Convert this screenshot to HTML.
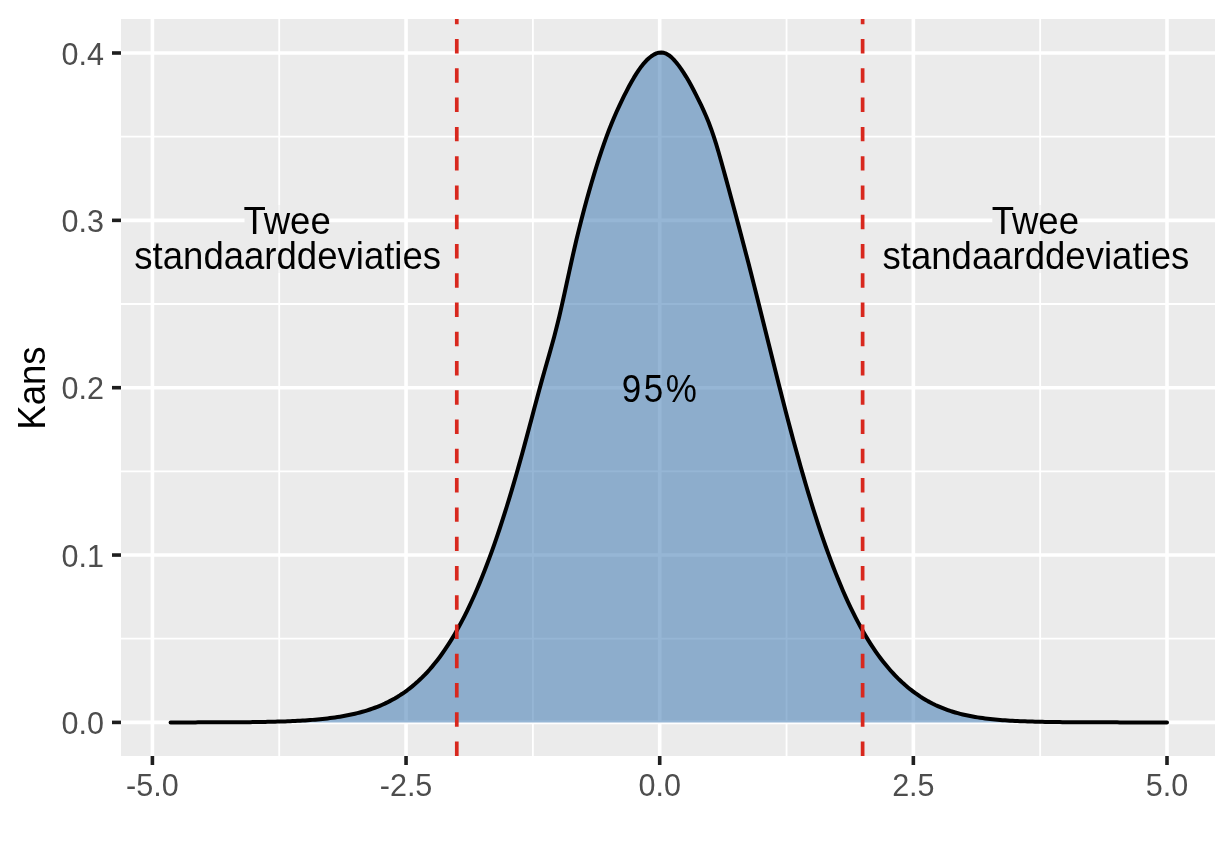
<!DOCTYPE html>
<html><head><meta charset="utf-8"><style>
html,body{margin:0;padding:0;background:#fff;}
body{width:1232px;height:864px;overflow:hidden;}
svg{display:block;will-change:transform;font-family:"Liberation Sans", sans-serif;}
</style></head><body>
<svg width="1232" height="864" viewBox="0 0 1232 864">
<defs><clipPath id="pc"><rect x="121" y="19" width="1094" height="737"/></clipPath></defs>
<rect x="121" y="19" width="1094" height="737" fill="#EBEBEB"/>
<line x1="279.23" y1="19" x2="279.23" y2="756" stroke="#fff" stroke-width="1.8"/>
<line x1="532.88" y1="19" x2="532.88" y2="756" stroke="#fff" stroke-width="1.8"/>
<line x1="786.53" y1="19" x2="786.53" y2="756" stroke="#fff" stroke-width="1.8"/>
<line x1="1040.17" y1="19" x2="1040.17" y2="756" stroke="#fff" stroke-width="1.8"/>
<line x1="121" y1="638.72" x2="1215" y2="638.72" stroke="#fff" stroke-width="1.8"/>
<line x1="121" y1="471.38" x2="1215" y2="471.38" stroke="#fff" stroke-width="1.8"/>
<line x1="121" y1="304.02" x2="1215" y2="304.02" stroke="#fff" stroke-width="1.8"/>
<line x1="121" y1="136.68" x2="1215" y2="136.68" stroke="#fff" stroke-width="1.8"/>
<line x1="152.40" y1="19" x2="152.40" y2="756" stroke="#fff" stroke-width="3.6"/>
<line x1="406.05" y1="19" x2="406.05" y2="756" stroke="#fff" stroke-width="3.6"/>
<line x1="659.70" y1="19" x2="659.70" y2="756" stroke="#fff" stroke-width="3.6"/>
<line x1="913.35" y1="19" x2="913.35" y2="756" stroke="#fff" stroke-width="3.6"/>
<line x1="1167.00" y1="19" x2="1167.00" y2="756" stroke="#fff" stroke-width="3.6"/>
<line x1="121" y1="722.40" x2="1215" y2="722.40" stroke="#fff" stroke-width="3.6"/>
<line x1="121" y1="555.05" x2="1215" y2="555.05" stroke="#fff" stroke-width="3.6"/>
<line x1="121" y1="387.70" x2="1215" y2="387.70" stroke="#fff" stroke-width="3.6"/>
<line x1="121" y1="220.35" x2="1215" y2="220.35" stroke="#fff" stroke-width="3.6"/>
<line x1="121" y1="53.00" x2="1215" y2="53.00" stroke="#fff" stroke-width="3.6"/>
<rect x="244.5" y="216" width="85.3" height="8.5" fill="#EBEBEB"/>
<rect x="277.73" y="205" width="3" height="68" fill="#EBEBEB" fill-opacity="0.45"/>
<rect x="992.3" y="216" width="86.0" height="8.5" fill="#EBEBEB"/>
<rect x="1038.67" y="205" width="3" height="68" fill="#EBEBEB" fill-opacity="0.45"/>
<path d="M170.56,722.39 L173.05,722.39 L175.54,722.39 L178.03,722.39 L180.53,722.39 L183.02,722.39 L185.51,722.38 L188.00,722.38 L190.49,722.38 L192.98,722.38 L195.47,722.38 L197.96,722.37 L200.45,722.37 L202.95,722.36 L205.44,722.36 L207.93,722.36 L210.42,722.35 L212.91,722.34 L215.40,722.34 L217.89,722.33 L220.38,722.32 L222.87,722.31 L225.37,722.30 L227.86,722.29 L230.35,722.28 L232.84,722.27 L235.33,722.25 L237.82,722.24 L240.31,722.22 L242.80,722.20 L245.29,722.18 L247.79,722.15 L250.28,722.13 L252.77,722.10 L255.26,722.07 L257.75,722.03 L260.24,721.99 L262.73,721.95 L265.22,721.91 L267.71,721.86 L270.21,721.81 L272.70,721.75 L275.19,721.69 L277.68,721.62 L280.17,721.55 L282.66,721.47 L285.15,721.38 L287.64,721.29 L290.13,721.19 L292.63,721.09 L295.12,720.97 L297.61,720.85 L300.10,720.71 L302.59,720.57 L305.08,720.41 L307.57,720.25 L310.06,720.07 L312.55,719.88 L315.04,719.67 L317.54,719.45 L320.03,719.22 L322.52,718.96 L325.01,718.70 L327.50,718.41 L329.99,718.10 L332.48,717.78 L334.97,717.43 L337.46,717.06 L339.96,716.67 L342.45,716.25 L344.94,715.80 L347.43,715.33 L349.92,714.82 L352.41,714.29 L354.90,713.72 L357.39,713.11 L359.88,712.47 L362.38,711.80 L364.87,711.08 L367.36,710.32 L369.85,709.51 L372.34,708.65 L374.83,707.75 L377.32,706.80 L379.81,705.79 L382.30,704.72 L384.80,703.60 L387.29,702.41 L389.78,701.15 L392.27,699.83 L394.76,698.44 L397.25,696.97 L399.74,695.42 L402.23,693.79 L404.72,692.08 L407.22,690.28 L409.71,688.38 L412.20,686.40 L414.69,684.31 L417.18,682.12 L419.67,679.82 L422.16,677.42 L424.65,674.90 L427.14,672.26 L429.64,669.50 L432.13,666.62 L434.62,663.60 L437.11,660.45 L439.60,657.17 L442.09,653.75 L444.58,650.18 L447.07,646.47 L449.56,642.60 L452.06,638.58 L454.55,634.40 L457.04,630.06 L459.53,625.56 L462.02,620.89 L464.51,616.06 L467.00,611.05 L469.49,605.87 L471.98,600.51 L474.48,594.97 L476.97,589.25 L479.46,583.35 L481.95,577.27 L484.44,571.00 L486.93,564.55 L489.42,557.91 L491.91,551.08 L494.40,544.07 L496.90,536.87 L499.39,529.49 L501.88,521.92 L504.37,514.17 L506.86,506.23 L509.35,498.11 L511.84,489.82 L514.33,481.35 L516.82,472.71 L519.31,463.91 L521.81,454.95 L524.30,445.85 L526.79,436.62 L529.28,427.29 L531.77,417.89 L534.26,408.49 L536.75,399.14 L539.24,389.91 L541.73,380.85 L544.23,371.98 L546.72,363.26 L549.21,354.58 L551.70,345.77 L554.19,336.66 L556.68,327.06 L559.17,316.90 L561.66,306.16 L564.15,294.98 L566.65,283.54 L569.14,272.05 L571.63,260.73 L574.12,249.71 L576.61,239.08 L579.10,228.85 L581.59,219.01 L584.08,209.51 L586.57,200.32 L589.07,191.41 L591.56,182.75 L594.05,174.36 L596.54,166.23 L599.03,158.38 L601.52,150.82 L604.01,143.57 L606.50,136.65 L608.99,130.04 L611.49,123.76 L613.98,117.77 L616.47,112.05 L618.96,106.57 L621.45,101.30 L623.94,96.22 L626.43,91.30 L628.92,86.55 L631.41,82.00 L633.91,77.66 L636.40,73.59 L638.89,69.82 L641.38,66.38 L643.87,63.29 L646.36,60.57 L648.85,58.21 L651.34,56.22 L653.83,54.61 L656.33,53.41 L658.82,52.67 L661.31,52.44 L663.80,52.77 L666.29,53.68 L668.78,55.16 L671.27,57.16 L673.76,59.61 L676.25,62.45 L678.75,65.62 L681.24,69.08 L683.73,72.82 L686.22,76.82 L688.71,81.06 L691.20,85.53 L693.69,90.20 L696.18,95.04 L698.67,100.03 L701.16,105.18 L703.66,110.56 L706.15,116.23 L708.64,122.33 L711.13,128.93 L713.62,136.13 L716.11,143.91 L718.60,152.21 L721.09,160.94 L723.58,169.94 L726.08,179.10 L728.57,188.32 L731.06,197.56 L733.55,206.81 L736.04,216.07 L738.53,225.37 L741.02,234.73 L743.51,244.18 L746.00,253.72 L748.50,263.35 L750.99,273.07 L753.48,282.87 L755.97,292.74 L758.46,302.68 L760.95,312.66 L763.44,322.68 L765.93,332.71 L768.42,342.75 L770.92,352.78 L773.41,362.78 L775.90,372.75 L778.39,382.65 L780.88,392.49 L783.37,402.24 L785.86,411.90 L788.35,421.44 L790.84,430.87 L793.34,440.17 L795.83,449.32 L798.32,458.34 L800.81,467.20 L803.30,475.90 L805.79,484.44 L808.28,492.81 L810.77,501.01 L813.26,509.04 L815.76,516.89 L818.25,524.56 L820.74,532.05 L823.23,539.35 L825.72,546.48 L828.21,553.42 L830.70,560.17 L833.19,566.75 L835.68,573.13 L838.18,579.33 L840.67,585.35 L843.16,591.19 L845.65,596.84 L848.14,602.31 L850.63,607.61 L853.12,612.73 L855.61,617.67 L858.10,622.44 L860.60,627.04 L863.09,631.48 L865.58,635.76 L868.07,639.88 L870.56,643.84 L873.05,647.65 L875.54,651.32 L878.03,654.84 L880.52,658.22 L883.01,661.47 L885.51,664.59 L888.00,667.58 L890.49,670.45 L892.98,673.20 L895.47,675.84 L897.96,678.37 L900.45,680.78 L902.94,683.10 L905.43,685.31 L907.93,687.42 L910.42,689.44 L912.91,691.36 L915.40,693.20 L917.89,694.95 L920.38,696.62 L922.87,698.20 L925.36,699.70 L927.85,701.13 L930.35,702.48 L932.84,703.77 L935.33,704.98 L937.82,706.12 L940.31,707.20 L942.80,708.22 L945.29,709.18 L947.78,710.09 L950.27,710.94 L952.77,711.73 L955.26,712.48 L957.75,713.18 L960.24,713.84 L962.73,714.45 L965.22,715.03 L967.71,715.56 L970.20,716.06 L972.69,716.53 L975.19,716.97 L977.68,717.37 L980.17,717.75 L982.66,718.10 L985.15,718.43 L987.64,718.73 L990.13,719.02 L992.62,719.28 L995.11,719.52 L997.61,719.75 L1000.10,719.96 L1002.59,720.15 L1005.08,720.33 L1007.57,720.50 L1010.06,720.65 L1012.55,720.79 L1015.04,720.93 L1017.53,721.05 L1020.03,721.16 L1022.52,721.26 L1025.01,721.36 L1027.50,721.45 L1029.99,721.53 L1032.48,721.60 L1034.97,721.67 L1037.46,721.74 L1039.95,721.79 L1042.45,721.85 L1044.94,721.90 L1047.43,721.94 L1049.92,721.98 L1052.41,722.02 L1054.90,722.05 L1057.39,722.09 L1059.88,722.11 L1062.37,722.14 L1064.87,722.17 L1067.36,722.19 L1069.85,722.21 L1072.34,722.23 L1074.83,722.24 L1077.32,722.26 L1079.81,722.27 L1082.30,722.28 L1084.79,722.29 L1087.28,722.30 L1089.78,722.31 L1092.27,722.32 L1094.76,722.33 L1097.25,722.34 L1099.74,722.34 L1102.23,722.35 L1104.72,722.35 L1107.21,722.36 L1109.70,722.36 L1112.20,722.37 L1114.69,722.37 L1117.18,722.37 L1119.67,722.38 L1122.16,722.38 L1124.65,722.38 L1127.14,722.38 L1129.63,722.38 L1132.12,722.39 L1134.62,722.39 L1137.11,722.39 L1139.60,722.39 L1142.09,722.39 L1144.58,722.39 L1147.07,722.39 L1149.56,722.39 L1152.05,722.39 L1154.54,722.40 L1157.04,722.40 L1159.53,722.40 L1162.02,722.40 L1164.51,722.40 L1167.00,722.40 L1167.00,722.40 L170.56,722.40 Z" fill="rgb(64,122,179)" fill-opacity="0.55"/>
<path d="M170.56,722.39 L173.05,722.39 L175.54,722.39 L178.03,722.39 L180.53,722.39 L183.02,722.39 L185.51,722.38 L188.00,722.38 L190.49,722.38 L192.98,722.38 L195.47,722.38 L197.96,722.37 L200.45,722.37 L202.95,722.36 L205.44,722.36 L207.93,722.36 L210.42,722.35 L212.91,722.34 L215.40,722.34 L217.89,722.33 L220.38,722.32 L222.87,722.31 L225.37,722.30 L227.86,722.29 L230.35,722.28 L232.84,722.27 L235.33,722.25 L237.82,722.24 L240.31,722.22 L242.80,722.20 L245.29,722.18 L247.79,722.15 L250.28,722.13 L252.77,722.10 L255.26,722.07 L257.75,722.03 L260.24,721.99 L262.73,721.95 L265.22,721.91 L267.71,721.86 L270.21,721.81 L272.70,721.75 L275.19,721.69 L277.68,721.62 L280.17,721.55 L282.66,721.47 L285.15,721.38 L287.64,721.29 L290.13,721.19 L292.63,721.09 L295.12,720.97 L297.61,720.85 L300.10,720.71 L302.59,720.57 L305.08,720.41 L307.57,720.25 L310.06,720.07 L312.55,719.88 L315.04,719.67 L317.54,719.45 L320.03,719.22 L322.52,718.96 L325.01,718.70 L327.50,718.41 L329.99,718.10 L332.48,717.78 L334.97,717.43 L337.46,717.06 L339.96,716.67 L342.45,716.25 L344.94,715.80 L347.43,715.33 L349.92,714.82 L352.41,714.29 L354.90,713.72 L357.39,713.11 L359.88,712.47 L362.38,711.80 L364.87,711.08 L367.36,710.32 L369.85,709.51 L372.34,708.65 L374.83,707.75 L377.32,706.80 L379.81,705.79 L382.30,704.72 L384.80,703.60 L387.29,702.41 L389.78,701.15 L392.27,699.83 L394.76,698.44 L397.25,696.97 L399.74,695.42 L402.23,693.79 L404.72,692.08 L407.22,690.28 L409.71,688.38 L412.20,686.40 L414.69,684.31 L417.18,682.12 L419.67,679.82 L422.16,677.42 L424.65,674.90 L427.14,672.26 L429.64,669.50 L432.13,666.62 L434.62,663.60 L437.11,660.45 L439.60,657.17 L442.09,653.75 L444.58,650.18 L447.07,646.47 L449.56,642.60 L452.06,638.58 L454.55,634.40 L457.04,630.06 L459.53,625.56 L462.02,620.89 L464.51,616.06 L467.00,611.05 L469.49,605.87 L471.98,600.51 L474.48,594.97 L476.97,589.25 L479.46,583.35 L481.95,577.27 L484.44,571.00 L486.93,564.55 L489.42,557.91 L491.91,551.08 L494.40,544.07 L496.90,536.87 L499.39,529.49 L501.88,521.92 L504.37,514.17 L506.86,506.23 L509.35,498.11 L511.84,489.82 L514.33,481.35 L516.82,472.71 L519.31,463.91 L521.81,454.95 L524.30,445.85 L526.79,436.62 L529.28,427.29 L531.77,417.89 L534.26,408.49 L536.75,399.14 L539.24,389.91 L541.73,380.85 L544.23,371.98 L546.72,363.26 L549.21,354.58 L551.70,345.77 L554.19,336.66 L556.68,327.06 L559.17,316.90 L561.66,306.16 L564.15,294.98 L566.65,283.54 L569.14,272.05 L571.63,260.73 L574.12,249.71 L576.61,239.08 L579.10,228.85 L581.59,219.01 L584.08,209.51 L586.57,200.32 L589.07,191.41 L591.56,182.75 L594.05,174.36 L596.54,166.23 L599.03,158.38 L601.52,150.82 L604.01,143.57 L606.50,136.65 L608.99,130.04 L611.49,123.76 L613.98,117.77 L616.47,112.05 L618.96,106.57 L621.45,101.30 L623.94,96.22 L626.43,91.30 L628.92,86.55 L631.41,82.00 L633.91,77.66 L636.40,73.59 L638.89,69.82 L641.38,66.38 L643.87,63.29 L646.36,60.57 L648.85,58.21 L651.34,56.22 L653.83,54.61 L656.33,53.41 L658.82,52.67 L661.31,52.44 L663.80,52.77 L666.29,53.68 L668.78,55.16 L671.27,57.16 L673.76,59.61 L676.25,62.45 L678.75,65.62 L681.24,69.08 L683.73,72.82 L686.22,76.82 L688.71,81.06 L691.20,85.53 L693.69,90.20 L696.18,95.04 L698.67,100.03 L701.16,105.18 L703.66,110.56 L706.15,116.23 L708.64,122.33 L711.13,128.93 L713.62,136.13 L716.11,143.91 L718.60,152.21 L721.09,160.94 L723.58,169.94 L726.08,179.10 L728.57,188.32 L731.06,197.56 L733.55,206.81 L736.04,216.07 L738.53,225.37 L741.02,234.73 L743.51,244.18 L746.00,253.72 L748.50,263.35 L750.99,273.07 L753.48,282.87 L755.97,292.74 L758.46,302.68 L760.95,312.66 L763.44,322.68 L765.93,332.71 L768.42,342.75 L770.92,352.78 L773.41,362.78 L775.90,372.75 L778.39,382.65 L780.88,392.49 L783.37,402.24 L785.86,411.90 L788.35,421.44 L790.84,430.87 L793.34,440.17 L795.83,449.32 L798.32,458.34 L800.81,467.20 L803.30,475.90 L805.79,484.44 L808.28,492.81 L810.77,501.01 L813.26,509.04 L815.76,516.89 L818.25,524.56 L820.74,532.05 L823.23,539.35 L825.72,546.48 L828.21,553.42 L830.70,560.17 L833.19,566.75 L835.68,573.13 L838.18,579.33 L840.67,585.35 L843.16,591.19 L845.65,596.84 L848.14,602.31 L850.63,607.61 L853.12,612.73 L855.61,617.67 L858.10,622.44 L860.60,627.04 L863.09,631.48 L865.58,635.76 L868.07,639.88 L870.56,643.84 L873.05,647.65 L875.54,651.32 L878.03,654.84 L880.52,658.22 L883.01,661.47 L885.51,664.59 L888.00,667.58 L890.49,670.45 L892.98,673.20 L895.47,675.84 L897.96,678.37 L900.45,680.78 L902.94,683.10 L905.43,685.31 L907.93,687.42 L910.42,689.44 L912.91,691.36 L915.40,693.20 L917.89,694.95 L920.38,696.62 L922.87,698.20 L925.36,699.70 L927.85,701.13 L930.35,702.48 L932.84,703.77 L935.33,704.98 L937.82,706.12 L940.31,707.20 L942.80,708.22 L945.29,709.18 L947.78,710.09 L950.27,710.94 L952.77,711.73 L955.26,712.48 L957.75,713.18 L960.24,713.84 L962.73,714.45 L965.22,715.03 L967.71,715.56 L970.20,716.06 L972.69,716.53 L975.19,716.97 L977.68,717.37 L980.17,717.75 L982.66,718.10 L985.15,718.43 L987.64,718.73 L990.13,719.02 L992.62,719.28 L995.11,719.52 L997.61,719.75 L1000.10,719.96 L1002.59,720.15 L1005.08,720.33 L1007.57,720.50 L1010.06,720.65 L1012.55,720.79 L1015.04,720.93 L1017.53,721.05 L1020.03,721.16 L1022.52,721.26 L1025.01,721.36 L1027.50,721.45 L1029.99,721.53 L1032.48,721.60 L1034.97,721.67 L1037.46,721.74 L1039.95,721.79 L1042.45,721.85 L1044.94,721.90 L1047.43,721.94 L1049.92,721.98 L1052.41,722.02 L1054.90,722.05 L1057.39,722.09 L1059.88,722.11 L1062.37,722.14 L1064.87,722.17 L1067.36,722.19 L1069.85,722.21 L1072.34,722.23 L1074.83,722.24 L1077.32,722.26 L1079.81,722.27 L1082.30,722.28 L1084.79,722.29 L1087.28,722.30 L1089.78,722.31 L1092.27,722.32 L1094.76,722.33 L1097.25,722.34 L1099.74,722.34 L1102.23,722.35 L1104.72,722.35 L1107.21,722.36 L1109.70,722.36 L1112.20,722.37 L1114.69,722.37 L1117.18,722.37 L1119.67,722.38 L1122.16,722.38 L1124.65,722.38 L1127.14,722.38 L1129.63,722.38 L1132.12,722.39 L1134.62,722.39 L1137.11,722.39 L1139.60,722.39 L1142.09,722.39 L1144.58,722.39 L1147.07,722.39 L1149.56,722.39 L1152.05,722.39 L1154.54,722.40 L1157.04,722.40 L1159.53,722.40 L1162.02,722.40 L1164.51,722.40 L1167.00,722.40" fill="none" stroke="#000" stroke-width="4.0" stroke-linejoin="round" stroke-linecap="round"/>
<line x1="456.78" y1="756" x2="456.78" y2="19" stroke="#D8281E" stroke-width="3.7" stroke-dasharray="14.45 14.82"/>
<line x1="862.62" y1="756" x2="862.62" y2="19" stroke="#D8281E" stroke-width="3.7" stroke-dasharray="14.45 14.82"/>
<line x1="152.40" y1="756" x2="152.40" y2="765" stroke="#1F1F1F" stroke-width="3.6"/>
<line x1="406.05" y1="756" x2="406.05" y2="765" stroke="#1F1F1F" stroke-width="3.6"/>
<line x1="659.70" y1="756" x2="659.70" y2="765" stroke="#1F1F1F" stroke-width="3.6"/>
<line x1="913.35" y1="756" x2="913.35" y2="765" stroke="#1F1F1F" stroke-width="3.6"/>
<line x1="1167.00" y1="756" x2="1167.00" y2="765" stroke="#1F1F1F" stroke-width="3.6"/>
<line x1="112" y1="722.40" x2="121" y2="722.40" stroke="#1F1F1F" stroke-width="3.6"/>
<line x1="112" y1="555.05" x2="121" y2="555.05" stroke="#1F1F1F" stroke-width="3.6"/>
<line x1="112" y1="387.70" x2="121" y2="387.70" stroke="#1F1F1F" stroke-width="3.6"/>
<line x1="112" y1="220.35" x2="121" y2="220.35" stroke="#1F1F1F" stroke-width="3.6"/>
<line x1="112" y1="53.00" x2="121" y2="53.00" stroke="#1F1F1F" stroke-width="3.6"/>
<text transform="translate(152.40,795.80) scale(0.947,1)" text-anchor="middle" font-size="32.25" fill="#4D4D4D" stroke="#fff" stroke-width="0.0">-5.0</text>
<text transform="translate(406.05,795.80) scale(0.947,1)" text-anchor="middle" font-size="32.25" fill="#4D4D4D" stroke="#fff" stroke-width="0.0">-2.5</text>
<text transform="translate(659.70,795.80) scale(0.947,1)" text-anchor="middle" font-size="32.25" fill="#4D4D4D" stroke="#fff" stroke-width="0.0">0.0</text>
<text transform="translate(913.35,795.80) scale(0.947,1)" text-anchor="middle" font-size="32.25" fill="#4D4D4D" stroke="#fff" stroke-width="0.0">2.5</text>
<text transform="translate(1167.00,795.80) scale(0.947,1)" text-anchor="middle" font-size="32.25" fill="#4D4D4D" stroke="#fff" stroke-width="0.0">5.0</text>
<text transform="translate(104.00,734.00) scale(0.947,1)" text-anchor="end" font-size="32.25" fill="#4D4D4D" stroke="#fff" stroke-width="0.0">0.0</text>
<text transform="translate(104.00,566.65) scale(0.947,1)" text-anchor="end" font-size="32.25" fill="#4D4D4D" stroke="#fff" stroke-width="0.0">0.1</text>
<text transform="translate(104.00,399.30) scale(0.947,1)" text-anchor="end" font-size="32.25" fill="#4D4D4D" stroke="#fff" stroke-width="0.0">0.2</text>
<text transform="translate(104.00,231.95) scale(0.947,1)" text-anchor="end" font-size="32.25" fill="#4D4D4D" stroke="#fff" stroke-width="0.0">0.3</text>
<text transform="translate(104.00,64.60) scale(0.947,1)" text-anchor="end" font-size="32.25" fill="#4D4D4D" stroke="#fff" stroke-width="0.0">0.4</text>
<text transform="translate(45.00,388.00) rotate(-90) scale(0.93,1)" text-anchor="middle" font-size="39.3" fill="#000" stroke="#fff" stroke-width="0.0">Kans</text>
<text transform="translate(287.10,234.10) scale(0.93,1)" text-anchor="middle" font-size="39.3" fill="#000" stroke="#EBEBEB" stroke-width="0.0">Twee</text>
<text transform="translate(287.70,269.00) scale(0.93,1)" text-anchor="middle" font-size="39.3" fill="#000" stroke="#EBEBEB" stroke-width="0.0">standaarddeviaties</text>
<text transform="translate(1035.30,234.10) scale(0.93,1)" text-anchor="middle" font-size="39.3" fill="#000" stroke="#EBEBEB" stroke-width="0.0">Twee</text>
<text transform="translate(1035.90,269.00) scale(0.93,1)" text-anchor="middle" font-size="39.3" fill="#000" stroke="#EBEBEB" stroke-width="0.0">standaarddeviaties</text>
<text transform="translate(660.60,401.90) scale(0.89,1)" text-anchor="middle" font-size="39.3" fill="#000" letter-spacing="2.9" stroke="rgb(141,173,204)" stroke-width="0.0">95%</text>
</svg>
</body></html>
